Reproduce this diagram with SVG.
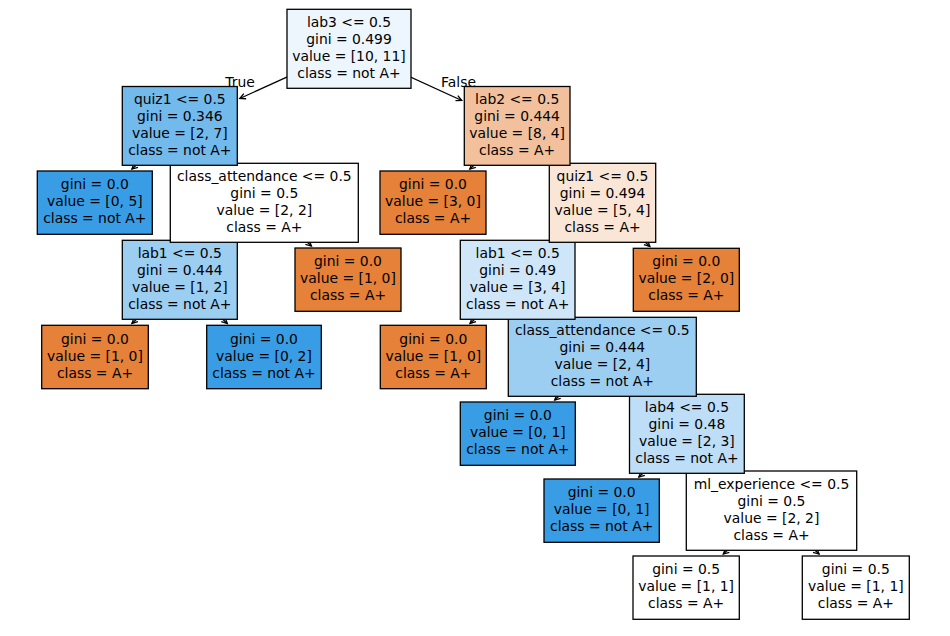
<svg xmlns="http://www.w3.org/2000/svg" width="950" height="636" viewBox="0 0 950 636">
<style>
.box{stroke:#000;stroke-width:1.3}
text{font-family:"DejaVu Sans","Liberation Sans",sans-serif;font-size:13.9px;fill:#000;text-anchor:middle}
.edge{stroke:#000;stroke-width:1.3;fill:none;marker-end:url(#ah)}
.w{fill:#ffffff}.o{fill:#e58139}.b{fill:#399de5}
</style>
<defs>
<marker id="ah" markerUnits="userSpaceOnUse" orient="auto" markerWidth="10" markerHeight="10" refX="0" refY="0" viewBox="-8 -5 10 10" overflow="visible">
<path d="M-5.6,-2.8 L0,0 L-5.6,2.8" fill="none" stroke="#000" stroke-width="1.3"/>
</marker>
</defs>
<rect width="950" height="636" fill="#fff"/>
<g id="connectors">
<line class="edge" x1="349" y1="48.8" x2="239.85" y2="98.5"/>
<line class="edge" x1="179.8" y1="125.9" x2="131.9" y2="169.1"/>
<line class="edge" x1="179.8" y1="125.9" x2="218.8" y2="161.4"/>
<line class="edge" x1="264.3" y1="202.8" x2="225.2" y2="238.4"/>
<line class="edge" x1="179.8" y1="279.8" x2="131.9" y2="323.4"/>
<line class="edge" x1="179.8" y1="279.8" x2="227.3" y2="323.4"/>
<line class="edge" x1="264.3" y1="202.8" x2="311.4" y2="246.1"/>
<line class="edge" x1="349" y1="48.8" x2="461.75" y2="100.5"/>
<line class="edge" x1="517.15" y1="125.9" x2="469.8" y2="169.1"/>
<line class="edge" x1="517.15" y1="125.9" x2="556.6" y2="161.4"/>
<line class="edge" x1="602.5" y1="202.8" x2="563.2" y2="238.4"/>
<line class="edge" x1="517.65" y1="279.8" x2="470" y2="323.4"/>
<line class="edge" x1="517.65" y1="279.8" x2="556.8" y2="315.4"/>
<line class="edge" x1="602.5" y1="202.8" x2="649.9" y2="246.4"/>
<line class="edge" x1="602.3" y1="356.8" x2="554.7" y2="400.1"/>
<line class="edge" x1="602.3" y1="356.8" x2="641.4" y2="392.4"/>
<line class="edge" x1="686.9" y1="433.8" x2="638.8" y2="477.1"/>
<line class="edge" x1="686.9" y1="433.8" x2="725.8" y2="469.1"/>
<line class="edge" x1="771.5" y1="510.65" x2="723.3" y2="554.1"/>
<line class="edge" x1="771.5" y1="510.65" x2="819.1" y2="554.1"/>
</g>
<g id="nodes">
<g id="n19"><rect class="box w" x="633" y="556" width="106.3" height="63.3"/><text><tspan x="686.15" y="574.15">gini = 0.5</tspan><tspan x="686.15" y="591.15">value = [1, 1]</tspan><tspan x="686.15" y="608.15">class = A+</tspan></text></g>
<g id="n20"><rect class="box w" x="802.3" y="556" width="107" height="63.3"/><text><tspan x="855.8" y="574.15">gini = 0.5</tspan><tspan x="855.8" y="591.15">value = [1, 1]</tspan><tspan x="855.8" y="608.15">class = A+</tspan></text></g>
<g id="n17"><rect class="box b" x="544" y="479" width="115.3" height="63.3"/><text><tspan x="601.65" y="497.15">gini = 0.0</tspan><tspan x="601.65" y="514.15">value = [0, 1]</tspan><tspan x="601.65" y="531.15">class = not A+</tspan></text></g>
<g id="n18"><rect class="box w" x="686.3" y="471" width="170.4" height="79.3"/><text><tspan x="771.5" y="488.65">ml_experience &lt;= 0.5</tspan><tspan x="771.5" y="505.65">gini = 0.5</tspan><tspan x="771.5" y="522.65">value = [2, 2]</tspan><tspan x="771.5" y="539.65">class = A+</tspan></text></g>
<g id="n15"><rect class="box b" x="460.3" y="402" width="115" height="63.3"/><text><tspan x="517.8" y="420.15">gini = 0.0</tspan><tspan x="517.8" y="437.15">value = [0, 1]</tspan><tspan x="517.8" y="454.15">class = not A+</tspan></text></g>
<g id="n16"><rect class="box" fill="#bddef6" x="629.5" y="394.3" width="114.8" height="79"/><text><tspan x="686.9" y="411.8">lab4 &lt;= 0.5</tspan><tspan x="686.9" y="428.8">gini = 0.48</tspan><tspan x="686.9" y="445.8">value = [2, 3]</tspan><tspan x="686.9" y="462.8">class = not A+</tspan></text></g>
<g id="n5"><rect class="box o" x="41.7" y="325.3" width="106.6" height="63.4"/><text><tspan x="95" y="343.5">gini = 0.0</tspan><tspan x="95" y="360.5">value = [1, 0]</tspan><tspan x="95" y="377.5">class = A+</tspan></text></g>
<g id="n6"><rect class="box b" x="206.7" y="325.3" width="114.6" height="63.4"/><text><tspan x="264" y="343.5">gini = 0.0</tspan><tspan x="264" y="360.5">value = [0, 2]</tspan><tspan x="264" y="377.5">class = not A+</tspan></text></g>
<g id="n13"><rect class="box o" x="380.3" y="325.3" width="106" height="63.4"/><text><tspan x="433.3" y="343.5">gini = 0.0</tspan><tspan x="433.3" y="360.5">value = [1, 0]</tspan><tspan x="433.3" y="377.5">class = A+</tspan></text></g>
<g id="n14"><rect class="box" fill="#9ccef2" x="508.3" y="317.3" width="188" height="79"/><text><tspan x="602.3" y="334.8">class_attendance &lt;= 0.5</tspan><tspan x="602.3" y="351.8">gini = 0.444</tspan><tspan x="602.3" y="368.8">value = [2, 4]</tspan><tspan x="602.3" y="385.8">class = not A+</tspan></text></g>
<g id="n4"><rect class="box" fill="#9ccef2" x="122.3" y="240.3" width="115" height="79"/><text><tspan x="179.8" y="257.8">lab1 &lt;= 0.5</tspan><tspan x="179.8" y="274.8">gini = 0.444</tspan><tspan x="179.8" y="291.8">value = [1, 2]</tspan><tspan x="179.8" y="308.8">class = not A+</tspan></text></g>
<g id="n7"><rect class="box o" x="295" y="248" width="106" height="63.3"/><text><tspan x="348" y="266.15">gini = 0.0</tspan><tspan x="348" y="283.15">value = [1, 0]</tspan><tspan x="348" y="300.15">class = A+</tspan></text></g>
<g id="n12"><rect class="box" fill="#cee6f8" x="460.3" y="240.3" width="114.7" height="79"/><text><tspan x="517.65" y="257.8">lab1 &lt;= 0.5</tspan><tspan x="517.65" y="274.8">gini = 0.49</tspan><tspan x="517.65" y="291.8">value = [3, 4]</tspan><tspan x="517.65" y="308.8">class = not A+</tspan></text></g>
<g id="n11"><rect class="box o" x="633.3" y="248.3" width="106" height="63"/><text><tspan x="686.3" y="266.3">gini = 0.0</tspan><tspan x="686.3" y="283.3">value = [2, 0]</tspan><tspan x="686.3" y="300.3">class = A+</tspan></text></g>
<g id="n2"><rect class="box b" x="37.3" y="171" width="115" height="63.3"/><text><tspan x="94.8" y="189.15">gini = 0.0</tspan><tspan x="94.8" y="206.15">value = [0, 5]</tspan><tspan x="94.8" y="223.15">class = not A+</tspan></text></g>
<g id="n3"><rect class="box w" x="170.3" y="163.3" width="188" height="79"/><text><tspan x="264.3" y="180.8">class_attendance &lt;= 0.5</tspan><tspan x="264.3" y="197.8">gini = 0.5</tspan><tspan x="264.3" y="214.8">value = [2, 2]</tspan><tspan x="264.3" y="231.8">class = A+</tspan></text></g>
<g id="n9"><rect class="box o" x="380" y="171" width="106" height="63.3"/><text><tspan x="433" y="189.15">gini = 0.0</tspan><tspan x="433" y="206.15">value = [3, 0]</tspan><tspan x="433" y="223.15">class = A+</tspan></text></g>
<g id="n10"><rect class="box" fill="#fae6d7" x="549.3" y="163.3" width="106.4" height="79"/><text><tspan x="602.5" y="180.8">quiz1 &lt;= 0.5</tspan><tspan x="602.5" y="197.8">gini = 0.494</tspan><tspan x="602.5" y="214.8">value = [5, 4]</tspan><tspan x="602.5" y="231.8">class = A+</tspan></text></g>
<g id="n1"><rect class="box" fill="#72b9ec" x="122.3" y="86.5" width="115" height="78.8"/><text><tspan x="179.8" y="103.9">quiz1 &lt;= 0.5</tspan><tspan x="179.8" y="120.9">gini = 0.346</tspan><tspan x="179.8" y="137.9">value = [2, 7]</tspan><tspan x="179.8" y="154.9">class = not A+</tspan></text></g>
<g id="n8"><rect class="box" fill="#f2c09c" x="464.3" y="86.5" width="105.7" height="78.8"/><text><tspan x="517.15" y="103.9">lab2 &lt;= 0.5</tspan><tspan x="517.15" y="120.9">gini = 0.444</tspan><tspan x="517.15" y="137.9">value = [8, 4]</tspan><tspan x="517.15" y="154.9">class = A+</tspan></text></g>
<g id="n0"><rect class="box" fill="#edf6fd" x="287" y="9.3" width="124" height="79"/><text><tspan x="349" y="26.8">lab3 &lt;= 0.5</tspan><tspan x="349" y="43.8">gini = 0.499</tspan><tspan x="349" y="60.8">value = [10, 11]</tspan><tspan x="349" y="77.8">class = not A+</tspan></text></g>
</g>
<g id="edge-labels">
<text x="240" y="86.7">True</text>
<text x="458.5" y="86.7">False</text>
</g>
</svg>
